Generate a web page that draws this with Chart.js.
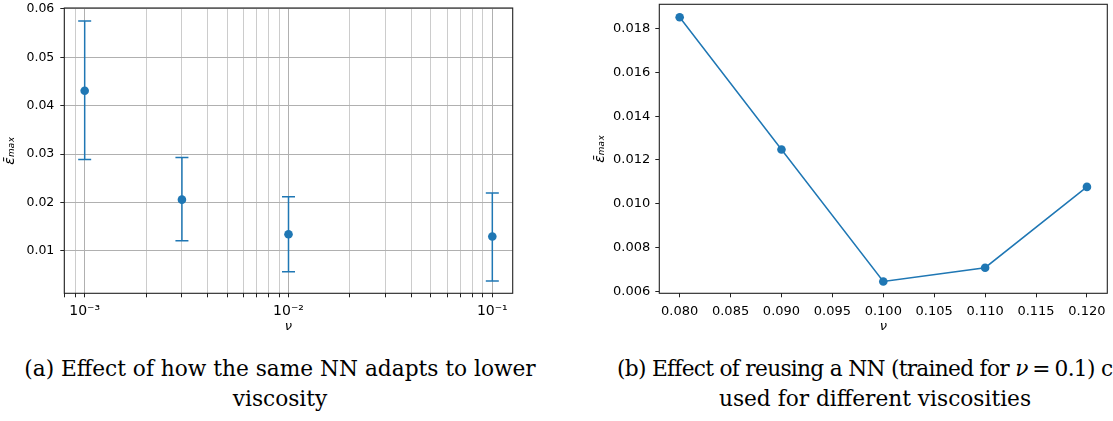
<!DOCTYPE html>
<html>
<head>
<meta charset="utf-8">
<script src="https://cdn.jsdelivr.net/npm/chart.js@4.4.0/dist/chart.umd.min.js"></script>
<style>
  body { margin: 0; background: #fff; width: 1113px; height: 421px; overflow: hidden; position: relative; }
  canvas { position: absolute; top: 0; }
  #chartA { left: 0; }
  #chartB { left: 560px; }
  .caption { position: absolute; font-family: 'DejaVu Serif', serif; font-size: 21.7px; line-height: 30px; color: #000; white-space: nowrap; }
  .caption i { font-style: italic; }
  #capA { left: 0; width: 560px; top: 354px; text-align: center; }
  #capB1 { left: 617px; top: 354px; letter-spacing: -0.7px; }
  #capB2 { left: 620px; width: 510px; top: 384px; text-align: center; }
</style>
</head>
<body>
<canvas id="chartA" width="560" height="340"></canvas>
<canvas id="chartB" width="553" height="340"></canvas>
<div class="caption" id="capA">(a) Effect of how the same NN adapts to lower<br>viscosity</div>
<div class="caption" id="capB1">(b) Effect of reusing a NN (trained for <i>ν</i>&#8197;=&#8197;0.1) c</div>
<div class="caption" id="capB2">used for different viscosities</div>
<script>
// (a) same NN, lower viscosity: mean max error with spread
const nuA = [0.001, 0.003, 0.01, 0.1];
const errA = [0.0431, 0.0206, 0.01345, 0.0130];
const errLowA = [0.0289, 0.0121, 0.0057, 0.0038];
const errHighA = [0.0575, 0.0293, 0.0212, 0.0220];
const xTicksA = [0.0008, 0.0009, 0.001, 0.002, 0.003, 0.004, 0.005, 0.006, 0.007, 0.008, 0.009,
  0.01, 0.02, 0.03, 0.04, 0.05, 0.06, 0.07, 0.08, 0.09, 0.1];
const xMajorA = [0.001, 0.01, 0.1];
const xMajorLabelsA = ['10⁻³', '10⁻²', '10⁻¹'];
const yTicksA = [0.01, 0.02, 0.03, 0.04, 0.05, 0.06];
const yLabelsA = ['0.01', '0.02', '0.03', '0.04', '0.05', '0.06'];

// (b) NN trained for nu = 0.1 reused at other viscosities
const nuB = [0.08, 0.09, 0.10, 0.11, 0.12];
const errB = [0.01852, 0.01248, 0.00645, 0.00708, 0.01077];
const xTicksB = [0.080, 0.085, 0.090, 0.095, 0.100, 0.105, 0.110, 0.115, 0.120];
const xLabelsB = ['0.080', '0.085', '0.090', '0.095', '0.100', '0.105', '0.110', '0.115', '0.120'];
const yTicksB = [0.006, 0.008, 0.010, 0.012, 0.014, 0.016, 0.018];
const yLabelsB = ['0.006', '0.008', '0.010', '0.012', '0.014', '0.016', '0.018'];

const blue = '#1f77b4';
const yTitle = 'ε̄ₘₐₓ';

Chart.defaults.font.family = "'DejaVu Sans', sans-serif";
Chart.defaults.color = '#000';

// matplotlib-like box around the axes
const frame = {
  id: 'frame',
  afterDraw(chart) {
    const { ctx, chartArea: a } = chart;
    ctx.save();
    ctx.strokeStyle = '#222';
    ctx.lineWidth = 1.1;
    ctx.strokeRect(a.left, a.top, a.right - a.left, a.bottom - a.top);
    ctx.restore();
  }
};

function fixY(width) {
  return scale => { scale.width = width; scale.paddingTop = 0; scale.paddingBottom = 0; };
}
function fixX(height) {
  return scale => { scale.height = height; scale.paddingLeft = 0; scale.paddingRight = 0; };
}
function setTicks(values) {
  return scale => { scale.ticks = values.map(v => ({ value: v })); };
}

// error bars as small two-point line datasets with flat caps
const errorBars = nuA.map((nu, i) => ({
  type: 'line',
  data: [{ x: nu, y: errLowA[i] }, { x: nu, y: errHighA[i] }],
  showLine: true,
  borderColor: blue,
  borderWidth: 1.5,
  pointStyle: 'line',
  pointRadius: 6.5,
  pointBorderColor: blue,
  pointBorderWidth: 1.5
}));

new Chart(document.getElementById('chartA'), {
  type: 'scatter',
  data: {
    datasets: [{
      data: nuA.map((nu, i) => ({ x: nu, y: errA[i] })),
      pointRadius: 4.3,
      pointBackgroundColor: blue,
      pointBorderWidth: 0
    }, ...errorBars]
  },
  options: {
    responsive: false,
    animation: false,
    events: [],
    layout: { padding: { left: 0, top: 3.3, right: 47.3, bottom: 0 } },
    plugins: { legend: { display: false }, tooltip: { enabled: false } },
    scales: {
      x: {
        type: 'logarithmic',
        min: Math.pow(10, -3.1),
        max: Math.pow(10, -0.9),
        afterBuildTicks: setTicks(xTicksA),
        afterFit: fixX(46.7),
        border: { display: false },
        grid: {
          color: ctx => xMajorA.includes(ctx.tick && ctx.tick.value) ? '#b0b0b0' : '#cccccc',
          lineWidth: 1,
          tickLength: 4,
          tickColor: '#222'
        },
        ticks: {
          autoSkip: false,
          maxRotation: 0,
          padding: 6,
          font: { size: 14 },
          callback: v => {
            const k = xMajorA.indexOf(v);
            return k >= 0 ? xMajorLabelsA[k] : '';
          }
        },
        title: { display: true, text: 'ν', font: { size: 13, style: 'italic' }, padding: { top: 0, bottom: 5.2 } }
      },
      y: {
        min: 0.00125,
        max: 0.0602,
        afterBuildTicks: setTicks(yTicksA),
        afterFit: fixY(64.3),
        border: { display: false },
        grid: { color: '#b0b0b0', lineWidth: 1, tickLength: 4, tickColor: '#222' },
        ticks: {
          padding: 6,
          font: { size: 12.5 },
          callback: (v, i) => yLabelsA[i]
        },
        title: { display: true, text: yTitle, font: { size: 14, style: 'italic' }, padding: { top: 2, bottom: 0 } }
      }
    }
  },
  plugins: [frame]
});

new Chart(document.getElementById('chartB'), {
  type: 'scatter',
  data: {
    datasets: [{
      data: nuB.map((nu, i) => ({ x: nu, y: errB[i] })),
      showLine: true,
      borderColor: blue,
      borderWidth: 1.5,
      pointRadius: 4.3,
      pointBackgroundColor: blue,
      pointBorderWidth: 0
    }]
  },
  options: {
    responsive: false,
    animation: false,
    events: [],
    layout: { padding: { left: 0, top: 3.3, right: 5.7, bottom: 0 } },
    plugins: { legend: { display: false }, tooltip: { enabled: false } },
    scales: {
      x: {
        min: 0.078,
        max: 0.122,
        afterBuildTicks: setTicks(xTicksB),
        afterFit: fixX(46.7),
        border: { display: false },
        grid: { drawOnChartArea: false, tickLength: 4, tickColor: '#222' },
        ticks: {
          autoSkip: false,
          maxRotation: 0,
          padding: 7,
          font: { size: 13 },
          callback: (v, i) => xLabelsB[i]
        },
        title: { display: true, text: 'ν', font: { size: 13, style: 'italic' }, padding: { top: 0, bottom: 5.2 } }
      },
      y: {
        min: 0.00591,
        max: 0.01911,
        afterBuildTicks: setTicks(yTicksB),
        afterFit: fixY(99.3),
        border: { display: false },
        grid: { drawOnChartArea: false, tickLength: 4, tickColor: '#222' },
        ticks: {
          padding: 5,
          font: { size: 13 },
          callback: (v, i) => yLabelsB[i]
        },
        title: { display: true, text: yTitle, font: { size: 14, style: 'italic' }, padding: { top: 31.6, bottom: 0 } }
      }
    }
  },
  plugins: [frame]
});
</script>
</body>
</html>
